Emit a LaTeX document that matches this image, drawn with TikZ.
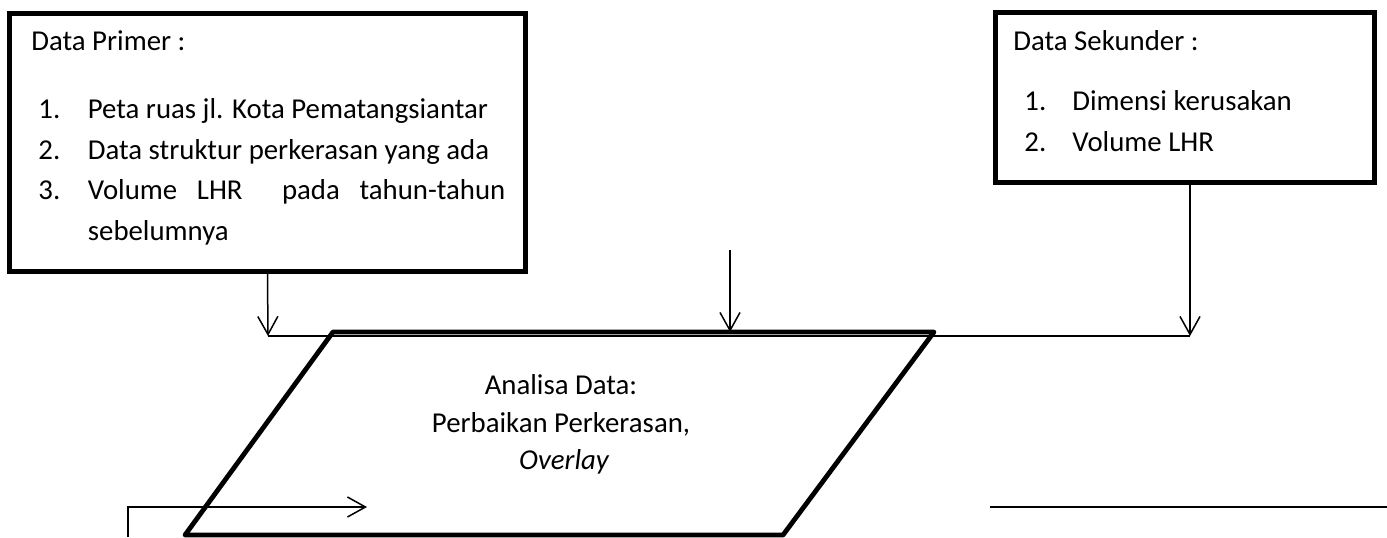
\documentclass[tikz,border=0pt]{standalone}
\usepackage{fontspec}
\setmainfont{Carlito}
\usetikzlibrary{arrows.meta}
\begin{document}
\begin{tikzpicture}[x=0.5pt,y=-0.5pt,
  box/.style={draw, line width=2.4pt, inner sep=0pt},
  txt/.style={anchor=base west, inner sep=0pt, font=\fontsize{14.4}{17}\selectfont},
  ctxt/.style={anchor=base, inner sep=0pt, font=\fontsize{14.4}{17}\selectfont},
  link/.style={line width=0.75pt},
  arr/.style={link, -{Straight Barb[length=9pt,width=10pt]}},
  proc/.style={line width=2.4pt, line join=round}
]
\useasboundingbox (0,0) rectangle (1387,537);

% primary data box
\node[box, minimum width=258.25pt, minimum height=129.25pt] (lbox) at (267.5,142.5) {};
\node[txt] (lt) at (31,50) {Data Primer :};
\node[txt] (ln1) at (38,118.5) {1.};
\node[txt] (li1) at (87.5,118.5) {Peta ruas jl. Kota Pematangsiantar};
\node[txt] (ln2) at (38,159) {2.};
\node[txt] (li2) at (87.5,159) {Data struktur perkerasan yang ada};
\node[txt] (ln3) at (38,199.5) {3.};
\node[txt] (li3) at (87.5,199.5) {\hbox to 208.75pt{Volume\hfill LHR\hfill\hfill pada\hfill tahun-tahun}};
\node[txt] (li3b) at (87.5,240) {sebelumnya};

% secondary data box
\node[box, minimum width=189.75pt, minimum height=85.25pt] (rbox) at (1185,97.5) {};
\node[txt] (rt) at (1013,50) {Data Sekunder :};
\node[txt] (rn1) at (1024,110) {1.};
\node[txt] (ri1) at (1072,110) {Dimensi kerusakan};
\node[txt] (rn2) at (1024,151) {2.};
\node[txt] (ri2) at (1072,151) {Volume LHR};

% analysis process (parallelogram)
\coordinate (ptl) at (333,332);
\coordinate (ptr) at (934,332);
\coordinate (pbr) at (783,535);
\coordinate (pbl) at (185,535);
\coordinate (ptm) at (730,332);
\node[ctxt] (a1) at (561,394) {Analisa Data:};
\node[ctxt] (a2) at (561,432) {Perbaikan Perkerasan,};
\node[ctxt] (a3) at (564,469) {\itshape Overlay};

% junction line and incoming arrows
\coordinate (jl) at (268,336);
\coordinate (jr) at (1190,336);
\coordinate (mtop) at (730,250);
\draw[link] (jl) -- (jr);
\draw[arr] (lbox.south) -- (jl);
\draw[arr] (mtop) -- (ptm);
\draw[arr] (rbox.south -| jr) -- (jr);

\draw[proc] (ptl) -- (ptr) -- (pbr) -- (pbl) -- cycle;

% lower connectors
\coordinate (bl0) at (128,537);
\coordinate (bl1) at (128,507);
\coordinate (bl2) at (367,507);
\draw[arr] (bl0) -- (bl1) -- (bl2);
\coordinate (br0) at (990,507);
\coordinate (br1) at (1387,507);
\draw[link] (br0) -- (br1);
\end{tikzpicture}
\end{document}
